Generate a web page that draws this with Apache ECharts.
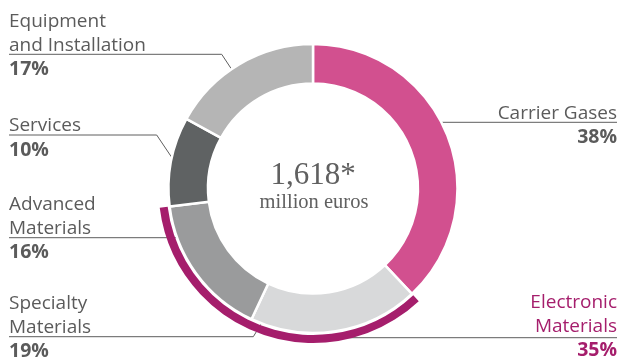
<!DOCTYPE html>
<html>
<head>
<meta charset="utf-8">
<script src="https://cdn.jsdelivr.net/npm/echarts@6/dist/echarts.min.js"></script>
<style>
  html, body { margin: 0; padding: 0; background: #fff; }
  #chart { width: 620px; height: 358px; }
</style>
</head>
<body>
<div id="chart"></div>
<script>
// Revenue split by business line (share of total, %)
const categories = ['Carrier Gases', 'Specialty\nMaterials', 'Advanced\nMaterials', 'Services', 'Equipment\nand Installation'];
const shares = [38, 19, 16, 10, 17];
// Specialty + Advanced Materials together form Electronic Materials
const groupName = 'Electronic\nMaterials';
const groupShare = 35;
// Centre caption
const totalLabel = '1,618*';
const unitLabel = 'million euros';

const sliceColors = ['#d2508f', '#d8d9da', '#9a9b9c', '#5f6263', '#b5b5b5'];
const groupColor = '#a51e6c';
const textGrey = '#5b5b5b';
const lineGrey = '#5e5e5e';

const CX = 313, CY = 188.5;
const ANCHOR_R = 132;

// Label placement: side, underline y, bend x (null = straight line), anchor angle (deg, clockwise from 12 o'clock)
const labelPlacement = [
  { side: 'right', uy: 122.3, bendX: null, angle: null },
  { side: 'left', uy: 336.7, bendX: 253.3, angle: 199.9 },
  { side: 'left', uy: 237.7, bendX: null, angle: null },
  { side: 'left', uy: 135, bendX: 156.7, angle: 276.9 },
  { side: 'left', uy: 54.3, bendX: 221.7, angle: 325.6 }
];
const groupPlacement = { side: 'right', uy: 337.7, angle: 167.3, r: 153.5 };

const LEFT_X = 9, RIGHT_X = 617;
const LINE_H = 24;

function polar(angleDeg, r) {
  const a = angleDeg * Math.PI / 180;
  return [CX + r * Math.sin(a), CY - r * Math.cos(a)];
}

function labelBox(name, uy, side) {
  const n = name.split('\n').length;
  return {
    x: side === 'left' ? LEFT_X : RIGHT_X,
    y: uy - LINE_H * n + 3,
    align: side,
    verticalAlign: 'top'
  };
}

function richFor(color, align) {
  return {
    n: { fontFamily: 'Open Sans', fontWeight: 'normal', fontSize: 19, color: color, lineHeight: LINE_H, align: align },
    p: { fontFamily: 'Open Sans', fontWeight: 'bold', fontSize: 19.5, color: color, lineHeight: LINE_H, align: align }
  };
}

function labelText(name, value) {
  return name.split('\n').map(s => '{n|' + s + '}').join('\n') + '\n{p|' + value + '%}';
}

const sliceData = categories.map((name, i) => ({
  name: name,
  value: shares[i],
  itemStyle: { color: sliceColors[i] },
  label: { rich: richFor(textGrey, labelPlacement[i].side) }
}));

const before = shares[0];
const after = shares.reduce((a, b) => a + b, 0) - before - groupShare;

const chart = echarts.init(document.getElementById('chart'));
chart.setOption({
  animation: false,
  series: [
    {
      type: 'pie',
      center: [CX, CY],
      radius: [105, 144.5],
      startAngle: 90,
      clockwise: true,
      avoidLabelOverlap: false,
      silent: true,
      emphasis: { disabled: true },
      itemStyle: { borderColor: '#ffffff', borderWidth: 2.5 },
      label: {
        show: true,
        formatter: p => labelText(p.name, p.value)
      },
      labelLine: { show: true, lineStyle: { color: lineGrey, width: 1 } },
      labelLayout: function (params) {
        const L = labelPlacement[params.dataIndex];
        const name = categories[params.dataIndex];
        const box = labelBox(name, L.uy, L.side);
        const edgeX = L.side === 'left' ? LEFT_X : RIGHT_X;
        let pts;
        if (L.bendX === null) {
          const dy = L.uy - CY;
          const dx = Math.sqrt(ANCHOR_R * ANCHOR_R - dy * dy);
          const ax = L.side === 'left' ? CX - dx : CX + dx;
          pts = [[ax, L.uy], [edgeX, L.uy]];
        } else {
          pts = [polar(L.angle, ANCHOR_R), [L.bendX, L.uy], [edgeX, L.uy]];
        }
        return Object.assign(box, { labelLinePoints: pts });
      },
      data: sliceData
    },
    {
      type: 'pie',
      center: [CX, CY],
      radius: [146.5, 154.5],
      startAngle: 90,
      clockwise: true,
      avoidLabelOverlap: false,
      silent: true,
      emphasis: { disabled: true },
      itemStyle: { borderWidth: 0 },
      labelLine: { show: true, lineStyle: { color: lineGrey, width: 1 } },
      labelLayout: function (params) {
        if (params.dataIndex !== 1) return {};
        const G = groupPlacement;
        const box = labelBox(groupName, G.uy, G.side);
        box.y -= 2;
        const a = polar(G.angle, G.r);
        return Object.assign(box, { labelLinePoints: [[a[0], G.uy], [RIGHT_X, G.uy]] });
      },
      data: [
        { value: before, itemStyle: { color: 'rgba(0,0,0,0)' }, label: { show: false }, labelLine: { show: false } },
        {
          name: groupName, value: groupShare, itemStyle: { color: groupColor },
          label: { show: true, formatter: p => labelText(p.name, p.value), rich: richFor(groupColor, 'right') }
        },
        { value: after, itemStyle: { color: 'rgba(0,0,0,0)' }, label: { show: false }, labelLine: { show: false } }
      ]
    }
  ],
  graphic: [
    {
      type: 'text', x: CX, y: 176, silent: true,
      style: { text: totalLabel, fontFamily: 'Liberation Serif', fontSize: 31, fill: '#606060', align: 'center', verticalAlign: 'middle' }
    },
    {
      type: 'text', x: CX + 1, y: 203, silent: true,
      style: { text: unitLabel, fontFamily: 'Liberation Serif', fontSize: 20.5, fill: '#606060', align: 'center', verticalAlign: 'middle' }
    }
  ]
});
</script>
</body>
</html>
